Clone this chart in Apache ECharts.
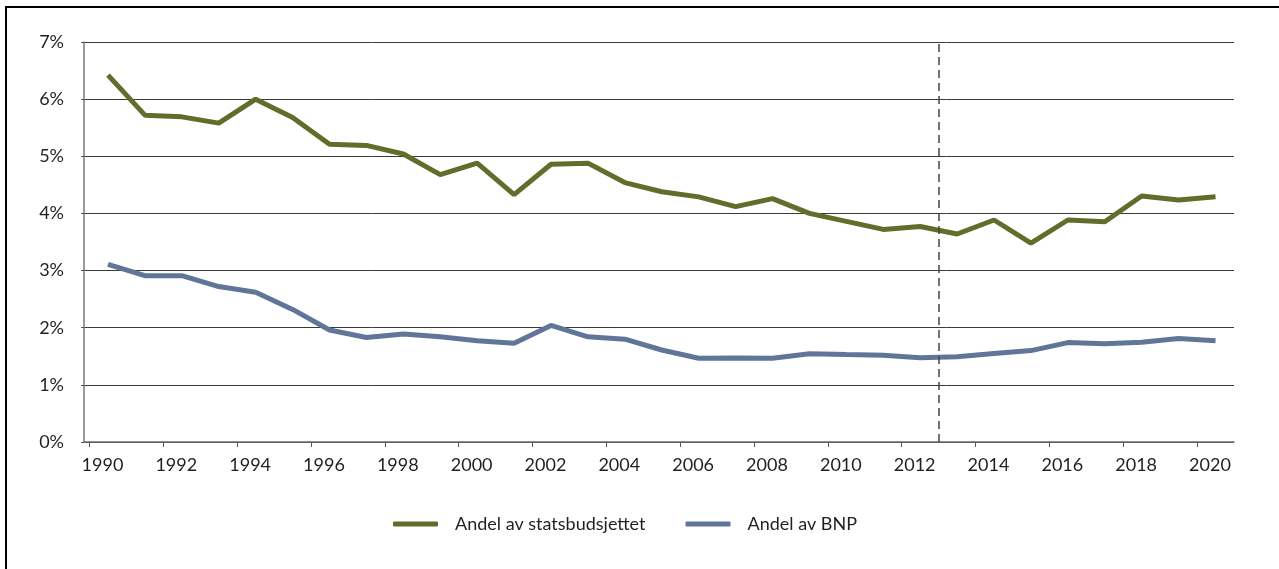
<!DOCTYPE html>
<html>
<head>
<meta charset="utf-8">
<script src="https://cdn.jsdelivr.net/npm/echarts@6/dist/echarts.min.js"></script>
<style>
html,body{margin:0;padding:0;background:#fff;}
#chart{width:1279px;height:569px;}
</style>
</head>
<body>
<div id="chart"></div>
<script>
const years = [1990,1991,1992,1993,1994,1995,1996,1997,1998,1999,2000,2001,2002,2003,2004,2005,2006,2007,2008,2009,2010,2011,2012,2013,2014,2015,2016,2017,2018,2019,2020];
const statsbudsjett = [6.42,5.72,5.69,5.58,6.0,5.68,5.21,5.19,5.04,4.68,4.88,4.33,4.86,4.88,4.54,4.38,4.29,4.12,4.26,4.0,3.86,3.72,3.77,3.64,3.885,3.48,3.885,3.855,4.305,4.235,4.29];
const bnp = [3.11,2.91,2.91,2.72,2.62,2.32,1.96,1.83,1.89,1.84,1.77,1.73,2.04,1.84,1.80,1.61,1.465,1.47,1.465,1.545,1.53,1.52,1.475,1.49,1.55,1.60,1.74,1.72,1.745,1.81,1.77];
const labelYears = [1990,1992,1994,1996,1998,2000,2002,2004,2006,2008,2010,2012,2014,2016,2018,2020];
const seriesNames = ['Andel av statsbudsjettet','Andel av BNP'];
const dividerYear = 2012.5;

const font = 'Lato';
const textColor = '#231f20';
const chart = echarts.init(document.getElementById('chart'));
chart.setOption({
  animation:false,
  textStyle:{fontFamily:font},
  graphic:[
    {type:'line',shape:{x1:5,y1:7,x2:1279,y2:7},style:{stroke:'#000',lineWidth:2}},
    {type:'line',shape:{x1:6,y1:6,x2:6,y2:569},style:{stroke:'#000',lineWidth:2}}
  ],
  grid:{left:84,right:45,top:42,bottom:127},
  legend:{
    left:388, top:510,
    icon:'roundRect', itemWidth:45, itemHeight:5, itemGap:40,
    textStyle:{fontFamily:font,fontSize:18,color:textColor,padding:[0,0,0,12]},
    data:seriesNames
  },
  xAxis:{
    type:'value', min:1989.35, max:2020.5,
    axisLine:{show:true,lineStyle:{color:'#6e6e6e',width:1.5}},
    axisTick:{show:true,length:5,lineStyle:{color:'#555'},customValues:labelYears.map(y=>y-0.5)},
    axisLabel:{fontFamily:font,fontSize:18,color:textColor,margin:14,
      customValues:labelYears.map(y=>y-0.15),formatter:v=>String(Math.round(v))},
    splitLine:{show:false}
  },
  yAxis:{
    type:'value', min:0, max:7, interval:1,
    axisLine:{show:true,lineStyle:{color:'#777',width:1.5}},
    axisTick:{show:true,length:3,lineStyle:{color:'#555'}},
    axisLabel:{fontFamily:font,fontSize:18,color:textColor,margin:20,formatter:v=>v+'%'},
    splitLine:{show:true,lineStyle:{color:'#3a3a3a',width:1}}
  },
  series:[
    {name:seriesNames[0],type:'line',symbol:'none',color:'#656b2b',
     lineStyle:{width:5,color:'#656b2b'},
     data:years.map((y,i)=>[y,statsbudsjett[i]]),
     markLine:{silent:true,symbol:'none',label:{show:false},
       lineStyle:{type:[8,5],color:'#444',width:1.5},
       data:[{xAxis:dividerYear}]}},
    {name:seriesNames[1],type:'line',symbol:'none',color:'#617599',
     lineStyle:{width:5,color:'#617599'},
     data:years.map((y,i)=>[y,bnp[i]])}
  ]
});
</script>
</body>
</html>
